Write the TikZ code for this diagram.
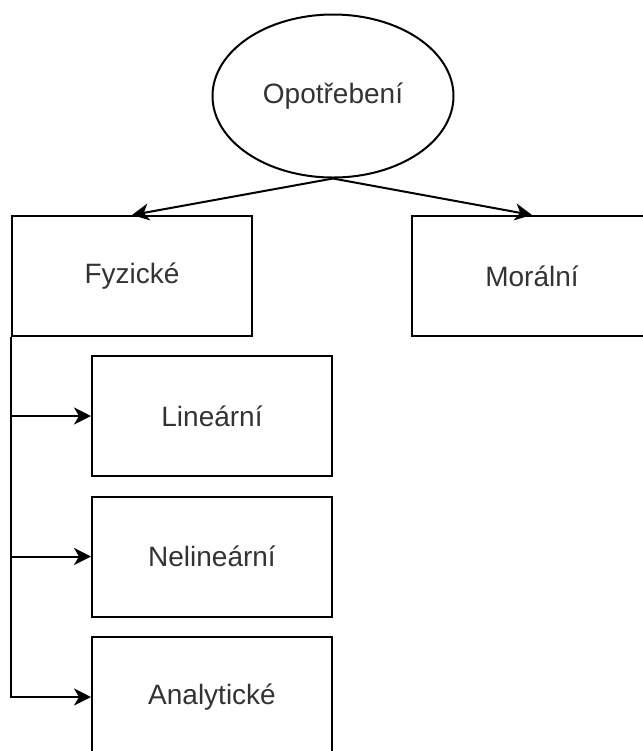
\documentclass[tikz,border=0pt]{standalone}
\usepackage{fontspec}
\setmainfont{Liberation Sans}
\usepackage{xcolor}
\usepackage{tikz}
\usetikzlibrary{shapes.geometric,arrows.meta}

\definecolor{textgray}{HTML}{333333}

\begin{document}
\begin{tikzpicture}[x=0.5pt, y=-0.5pt, line width=1pt,
  box/.style={draw, rectangle, minimum width=120pt, minimum height=60pt,
    inner sep=0pt, text=textgray, font=\fontsize{14}{16}\selectfont},
  oval/.style={draw, ellipse, minimum width=120.5pt, minimum height=81.5pt,
    inner sep=0pt, text=textgray, font=\fontsize{14}{16}\selectfont},
  arr/.style={-{Stealth[length=8.5pt, width=8.5pt, inset=2.5pt]}}]
 \useasboundingbox (0,0) rectangle (643,751);

  \node[oval] (opotrebeni) at (333,96) {Opotřebení};

  \node[box] (fyzicke) at (132,276) {Fyzické};
  \node[box] (moralni) at (532,276) {Morální};

  \node[box] (linearni) at (212,416) {Lineární};
  \node[box] (nelinearni) at (212,556.5) {Nelineární};
  \node[box] (analyticke) at (212,697) {Analytické};

    \draw[arr] (opotrebeni.south) -- (fyzicke.north);
    \draw[arr] (opotrebeni.south) -- (moralni.north);

  \foreach \n in {linearni, nelinearni, analyticke}
   \draw[arr] (fyzicke.south west) |- (\n.west);

\end{tikzpicture}
\end{document}
